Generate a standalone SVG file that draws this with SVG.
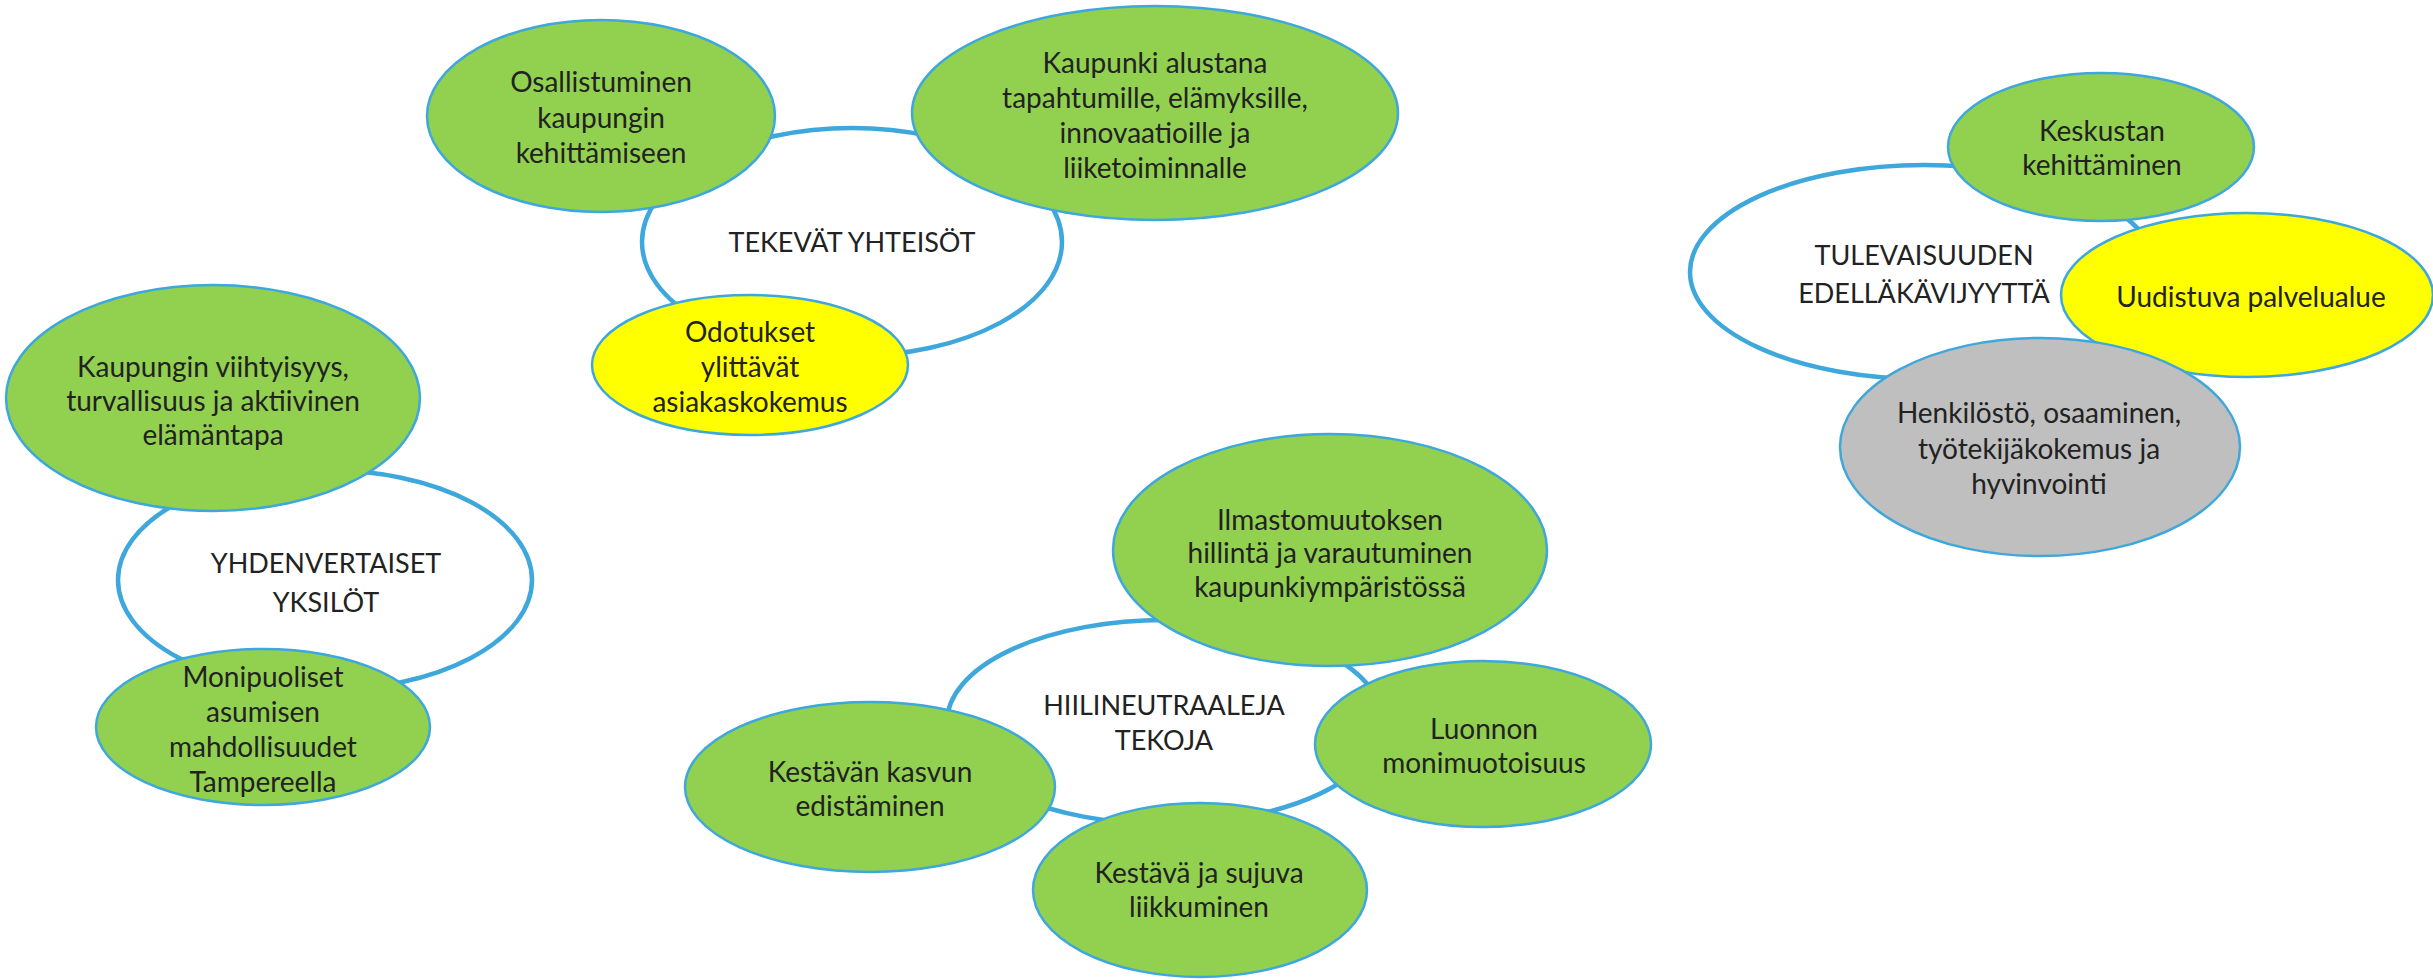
<svg xmlns="http://www.w3.org/2000/svg" width="2433" height="980" viewBox="0 0 2433 980">
  <style>
    .hub { fill: #ffffff; stroke: #3EA7DB; stroke-width: 4.5; }
    .sat { stroke: #3EA7DB; stroke-width: 2.5; }
    .green { fill: #92D050; }
    .yellow { fill: #FFFF00; }
    .gray { fill: #BFBFBF; }
    text { font-family: Lato, "Liberation Sans", sans-serif; fill: #222222; text-anchor: middle; }
    .t { font-size: 28px; }
    .h { font-size: 27px; }
  </style>
  <rect width="2433" height="980" fill="#ffffff"/>

  <!-- Cluster: TEKEVÄT YHTEISÖT -->
  <g id="tekevat-yhteisot">
    <ellipse class="hub" cx="852" cy="242" rx="210" ry="114"/>
    <text class="h" x="852" y="252">TEKEVÄT YHTEISÖT</text>
  </g>
  <g id="osallistuminen">
    <ellipse class="sat green" cx="601" cy="116" rx="174" ry="96"/>
    <text class="t" x="601"><tspan x="601" y="92">Osallistuminen</tspan><tspan x="601" y="128">kaupungin</tspan><tspan x="601" y="163">kehittämiseen</tspan></text>
  </g>
  <g id="kaupunki-alustana">
    <ellipse class="sat green" cx="1155" cy="113" rx="243" ry="107"/>
    <text class="t" x="1155"><tspan x="1155" y="73">Kaupunki alustana</tspan><tspan x="1155" y="108">tapahtumille, elämyksille,</tspan><tspan x="1155" y="143">innovaatioille ja</tspan><tspan x="1155" y="178">liiketoiminnalle</tspan></text>
  </g>
  <g id="odotukset">
    <ellipse class="sat yellow" cx="750" cy="365" rx="158" ry="70"/>
    <text class="t" x="750"><tspan x="750" y="342">Odotukset</tspan><tspan x="750" y="377">ylittävät</tspan><tspan x="750" y="412">asiakaskokemus</tspan></text>
  </g>

  <!-- Cluster: YHDENVERTAISET YKSILÖT -->
  <g id="yhdenvertaiset-yksilot">
    <ellipse class="hub" cx="325" cy="580" rx="207" ry="110"/>
    <text class="h"><tspan x="326" y="573">YHDENVERTAISET</tspan><tspan x="326" y="612">YKSILÖT</tspan></text>
  </g>
  <g id="kaupungin-viihtyisyys">
    <ellipse class="sat green" cx="213" cy="398" rx="207" ry="113"/>
    <text class="t"><tspan x="213" y="377">Kaupungin viihtyisyys,</tspan><tspan x="213" y="411">turvallisuus ja aktiivinen</tspan><tspan x="213" y="445">elämäntapa</tspan></text>
  </g>
  <g id="monipuoliset-asumisen">
    <ellipse class="sat green" cx="263" cy="727" rx="167" ry="78"/>
    <text class="t"><tspan x="263" y="687">Monipuoliset</tspan><tspan x="263" y="722">asumisen</tspan><tspan x="263" y="757">mahdollisuudet</tspan><tspan x="263" y="792">Tampereella</tspan></text>
  </g>

  <!-- Cluster: HIILINEUTRAALEJA TEKOJA -->
  <g id="hiilineutraaleja-tekoja">
    <ellipse class="hub" cx="1165" cy="722" rx="218" ry="102"/>
    <text class="h"><tspan x="1164" y="715">HIILINEUTRAALEJA</tspan><tspan x="1164" y="750">TEKOJA</tspan></text>
  </g>
  <g id="ilmastomuutoksen-hillinta">
    <ellipse class="sat green" cx="1330" cy="550" rx="217" ry="116"/>
    <text class="t"><tspan x="1330" y="530">Ilmastomuutoksen</tspan><tspan x="1330" y="563">hillintä ja varautuminen</tspan><tspan x="1330" y="597">kaupunkiympäristössä</tspan></text>
  </g>
  <g id="luonnon-monimuotoisuus">
    <ellipse class="sat green" cx="1483" cy="744" rx="168" ry="83"/>
    <text class="t"><tspan x="1484" y="739">Luonnon</tspan><tspan x="1484" y="773">monimuotoisuus</tspan></text>
  </g>
  <g id="kestavan-kasvun">
    <ellipse class="sat green" cx="870" cy="787" rx="185" ry="85"/>
    <text class="t"><tspan x="870" y="782">Kestävän kasvun</tspan><tspan x="870" y="816">edistäminen</tspan></text>
  </g>
  <g id="kestava-liikkuminen">
    <ellipse class="sat green" cx="1200" cy="890" rx="167" ry="87"/>
    <text class="t"><tspan x="1199" y="883">Kestävä ja sujuva</tspan><tspan x="1199" y="917">liikkuminen</tspan></text>
  </g>

  <!-- Cluster: TULEVAISUUDEN EDELLÄKÄVIJYYTTÄ -->
  <g id="tulevaisuuden-edellakavijyytta">
    <ellipse class="hub" cx="1924" cy="272" rx="234" ry="107"/>
    <text class="h"><tspan x="1924" y="265">TULEVAISUUDEN</tspan><tspan x="1924" y="303">EDELLÄKÄVIJYYTTÄ</tspan></text>
  </g>
  <g id="keskustan-kehittaminen">
    <ellipse class="sat green" cx="2101" cy="147" rx="153" ry="74"/>
    <text class="t"><tspan x="2102" y="141">Keskustan</tspan><tspan x="2102" y="175">kehittäminen</tspan></text>
  </g>
  <g id="uudistuva-palvelualue">
    <ellipse class="sat yellow" cx="2247" cy="295" rx="186" ry="82"/>
    <text class="t"><tspan x="2251" y="307">Uudistuva palvelualue</tspan></text>
  </g>
  <g id="henkilosto">
    <ellipse class="sat gray" cx="2040" cy="447" rx="200" ry="109"/>
    <text class="t"><tspan x="2039" y="423">Henkilöstö, osaaminen,</tspan><tspan x="2039" y="459">työtekijäkokemus ja</tspan><tspan x="2039" y="494">hyvinvointi</tspan></text>
  </g>

  <g id="connectors"></g>
</svg>
